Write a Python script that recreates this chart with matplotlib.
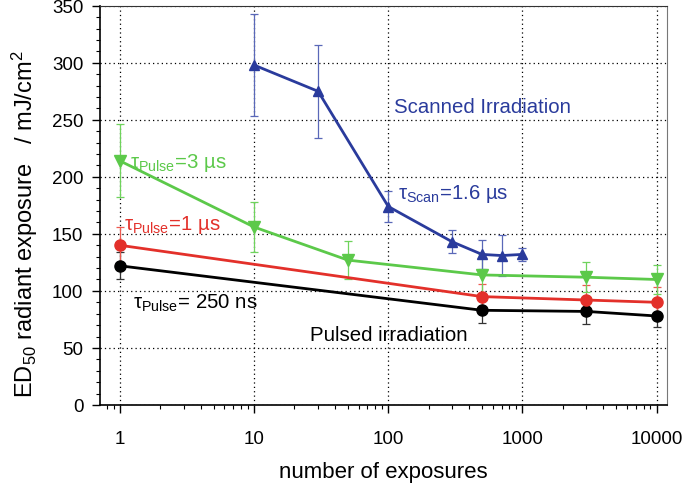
import matplotlib.pyplot as plt
from matplotlib.ticker import MultipleLocator, LogLocator, NullFormatter, FixedLocator, FixedFormatter

plt.rcParams['font.family'] = ['Liberation Sans', 'DejaVu Sans']
plt.rcParams['mathtext.fontset'] = 'custom'
plt.rcParams['mathtext.rm'] = 'Liberation Sans'
plt.rcParams['mathtext.it'] = 'Liberation Sans:italic'

# Pulsed irradiation, tau = 250 ns
n_250 = [1, 500, 3000, 10000]
ed_250 = [122, 83, 82, 78]
err_250 = [12, 11, 11, 10]

# Pulsed irradiation, tau = 1 us
n_1us = [1, 500, 3000, 10000]
ed_1us = [140, 95, 92, 90]
err_1us = [16, 11, 13, 13]

# Pulsed irradiation, tau = 3 us
n_3us = [1, 10, 50, 500, 3000, 10000]
ed_3us = [214, 156, 127, 114, 112, 110]
err_3us = [32, 22, 17, 18, 13, 13]

# Scanned irradiation, tau = 1.6 us
n_scan = [10, 30, 100, 300, 500, 700, 1000]
ed_scan = [298, 275, 174, 143, 132, 131, 132]
err_scan = [45, 41, 14, 10, 13, 18, 6]

fig = plt.figure(figsize=(6.85, 4.85), dpi=100)
ax = fig.add_axes([0.146, 0.163, 0.828, 0.823])

blue = '#2a3b9c'
green = '#5cc94a'
red = '#e3302a'
black = '#000000'

series = [
    (n_250, ed_250, err_250, black, '#333333', 'o', 8),
    (n_1us, ed_1us, err_1us, red, '#ee5a50', 'o', 8),
    (n_3us, ed_3us, err_3us, green, '#6fd35c', 'v', 8),
    (n_scan, ed_scan, err_scan, blue, '#5a68b8', '^', 7),
]
for x, y, e, c, ec, m, ms in series:
    ax.errorbar(x, y, yerr=e, fmt='none', ecolor=ec, elinewidth=0.9,
                capsize=3, capthick=0.9, zorder=2)
    ax.plot(x, y, color=c, lw=2, marker=m, ms=ms, zorder=3)

ax.set_xscale('log')
ax.set_xlim(0.71, 12000)
ax.set_ylim(0, 350)

ax.xaxis.set_major_locator(FixedLocator([1, 10, 100, 1000, 10000]))
ax.xaxis.set_major_formatter(FixedFormatter(['1', '10', '100', '1000', '10000']))
ax.xaxis.set_minor_locator(LogLocator(base=10, subs=range(2, 10), numticks=20))
ax.xaxis.set_minor_formatter(NullFormatter())
ax.yaxis.set_major_locator(MultipleLocator(50))
ax.yaxis.set_minor_locator(MultipleLocator(10))

ax.tick_params(which='major', direction='out', length=6, width=1, labelsize=13.5, pad=6)
ax.tick_params(which='minor', direction='out', length=3, width=0.8)
ax.tick_params(axis='x', which='major', pad=12)

ax.grid(True, which='major', color='black', linestyle=(0, (1, 2.5)), lw=0.9)

ax.spines['right'].set_color('#777777')
ax.spines['top'].set_color('#333333')
for s in ['left', 'bottom']:
    ax.spines[s].set_linewidth(1.2)

ax.set_xlabel('number of exposures', fontsize=16)
ax.xaxis.set_label_coords(0.5, -0.14)
ax.set_ylabel('ED$_{50}$ radiant exposure   / mJ/cm$^2$', fontsize=17)
ax.yaxis.set_label_coords(-0.105, 0.455)

fs = 14.7
ax.text(110, 262, 'Scanned Irradiation', color=blue, fontsize=fs, va='center')
ax.text(118, 186, r'$\mathrm{τ}_{\mathrm{Scan}}$=1.6 µs', color=blue, fontsize=fs, va='center')
ax.text(1.18, 213, r'$\mathrm{τ}_{\mathrm{Pulse}}$=3 µs', color=green, fontsize=fs, va='center')
ax.text(1.08, 159, r'$\mathrm{τ}_{\mathrm{Pulse}}$=1 µs', color=red, fontsize=fs, va='center')
ax.text(1.25, 90, r'$\mathrm{τ}_{\mathrm{Pulse}}$= 250 ns', color=black, fontsize=fs, va='center')
ax.text(26, 62, 'Pulsed irradiation', color=black, fontsize=fs, va='center')

fig.savefig('out.png', dpi=100)
